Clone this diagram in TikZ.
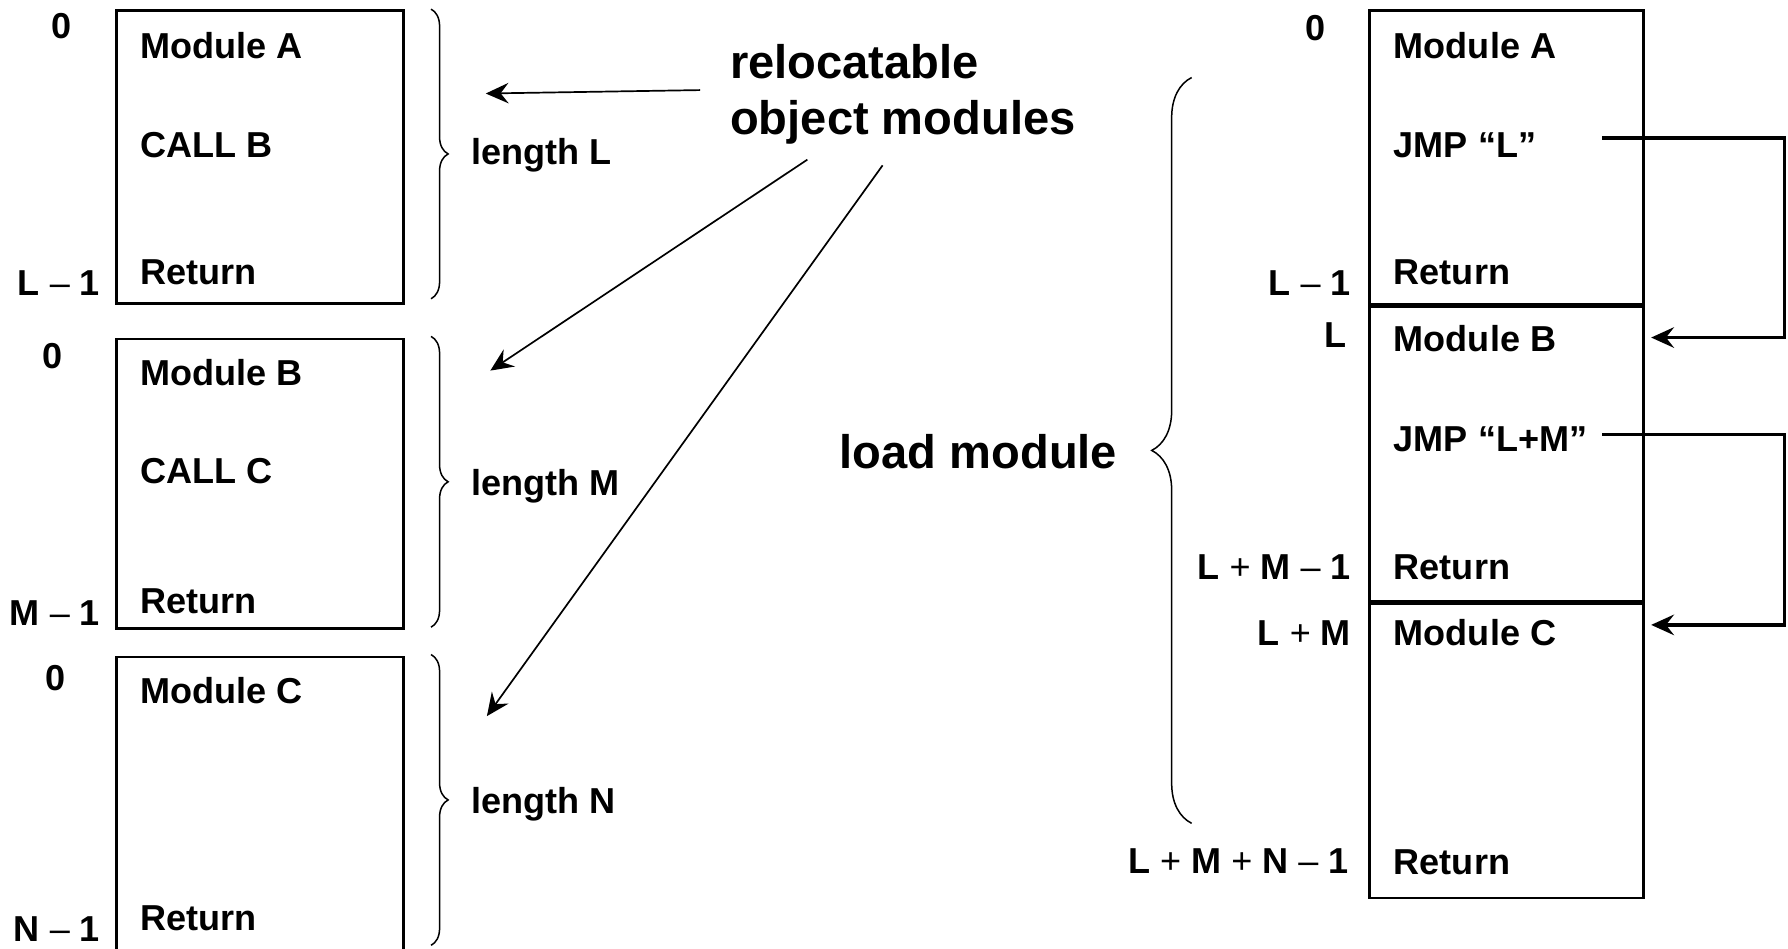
\documentclass[tikz,border=0pt]{standalone}
\usepackage{fontspec}
\setmainfont{Liberation Sans}
\usetikzlibrary{arrows.meta, calc, decorations.pathreplacing}
\tikzset{
    mem box/.style={
        draw,
        rectangle,
        line width=1.3pt,
        inner sep=0pt,
        anchor=north west
    },
    code text/.style={
        font=\fontsize{18}{21}\selectfont\bfseries,
        anchor=west,
        inner sep=0pt,
        yshift=-0.1cm,
        text height=0.72em,
        text depth=0pt
    },
    addr text/.style={
        code text,
        anchor=east
    },
    big text/.style={
        font=\fontsize{23.5}{27.9}\selectfont\bfseries,
        inner sep=0pt
    },
    len brace/.style={
        decorate,
        decoration={brace, amplitude=0.3cm},
        line width=0.75pt
    },
    pointer arrow/.style={
        -{Stealth[length=0.4cm, width=0.36cm, inset=0.14cm]},
        line width=0.85pt
    },
    jump arrow/.style={
        pointer arrow,
        line width=1.7pt
    }
}
\newcommand{\thinop}[1]{{\mdseries #1}}

\begin{document}
\begin{tikzpicture}[x=0.02cm, y=-0.02cm]
    \useasboundingbox (0,0) rectangle (1568,832);
    \clip (0,0) rectangle (1568,832);

    % Relocatable object modules (left)
    \node[mem box, minimum width=5.04cm, minimum height=5.14cm] (objA) at (101,8) {};
    \node[mem box, minimum width=5.04cm, minimum height=5.08cm] (objB) at (101,296) {};
    \node[mem box, minimum width=5.04cm, minimum height=5.8cm] (objC) at (101,575) {};

    \node[code text] (aHead) at (123,40) {Module A};
    \node[code text] (aCall) at (123,127) {CALL B};
    \node[code text] (aRet) at (123,238) {Return};
    \node[code text] (bHead) at (123,327) {Module B};
    \node[code text] (bCall) at (123,413) {CALL C};
    \node[code text] (bRet) at (123,527) {Return};
    \node[code text] (cHead) at (123,606) {Module C};
    \node[code text] (cRet) at (123,805) {Return};

    \node[addr text] (aFirst) at (63,22) {0};
    \node[addr text] (aLast) at (88,248) {L \thinop{–} 1};
    \node[addr text] (bFirst) at (55,312) {0};
    \node[addr text] (bLast) at (88,537) {M \thinop{–} 1};
    \node[addr text] (cFirst) at (58,594) {0};
    \node[addr text] (cLast) at (88,814) {N \thinop{–} 1};

    % Length braces
    \draw[len brace] (378,8) -- (378,262);
    \draw[len brace] (378,295) -- (378,550);
    \draw[len brace] (378,574) -- (378,829);
    \node[code text] (lenL) at (413,133) {length L};
    \node[code text] (lenM) at (413,423) {length M};
    \node[code text] (lenN) at (413,702) {length N};

    % Label and pointers
    \node[big text, align=left, anchor=north west] (objLbl) at (640,39) {relocatable\\object modules};
    \coordinate (fromA) at (614,79);
    \coordinate (toA) at (426,82);
    \coordinate (fromB) at (708,140);
    \coordinate (toB) at (430,325);
    \coordinate (fromC) at (774,145);
    \coordinate (toC) at (427,628);
    \draw[pointer arrow] (fromA) -- (toA);
    \draw[pointer arrow] (fromB) -- (toB);
    \draw[pointer arrow] (fromC) -- (toC);

    % Load module (right)
    \node[mem box, minimum width=4.8cm, minimum height=5.16cm] (loadA) at (1200,8) {};
    \node[mem box, minimum width=4.8cm, minimum height=5.16cm] (loadB) at (loadA.south west) {};
    \node[mem box, minimum width=4.8cm, minimum height=5.16cm] (loadC) at (loadB.south west) {};

    \node[code text] (lHeadA) at (1222,40) {Module A};
    \node[code text] (jmpL) at (1222,127) {JMP “L”};
    \node[code text] (lRetA) at (1222,238) {Return};
    \node[code text] (lHeadB) at (1222,297) {Module B};
    \node[code text] (jmpLM) at (1222,385) {JMP “L+M”};
    \node[code text] (lRetB) at (1222,497) {Return};
    \node[code text] (lHeadC) at (1222,555) {Module C};
    \node[code text] (lRetC) at (1222,756) {Return};

    \node[addr text] (adr0) at (1163,24) {0};
    \node[addr text] (adrL1) at (1185,248) {L \thinop{–} 1};
    \node[addr text] (adrL) at (1181,293) {L};
    \node[addr text] (adrLM1) at (1185,497) {L \thinop{+} M \thinop{–} 1};
    \node[addr text] (adrLM) at (1185,555) {L \thinop{+} M};
    \node[addr text] (adrEnd) at (1183,755) {L \thinop{+} M \thinop{+} N \thinop{–} 1};

    \draw[len brace, decoration={amplitude=0.7cm}] (1045,722) -- (1045,68);
    \node[big text, anchor=east] (loadLbl) at (980,396) {load module};

    % Jump targets
    \coordinate (jumpB) at (1405,121);
    \coordinate (turnB) at (1565,121);
    \coordinate (hitB) at (1448,296);
    \coordinate (jumpC) at (1405,381);
    \coordinate (turnC) at (1565,381);
    \coordinate (hitC) at (1448,548);
    \draw[jump arrow] (jumpB) -- (turnB) |- (hitB);
    \draw[jump arrow] (jumpC) -- (turnC) |- (hitC);
\end{tikzpicture}
\end{document}
